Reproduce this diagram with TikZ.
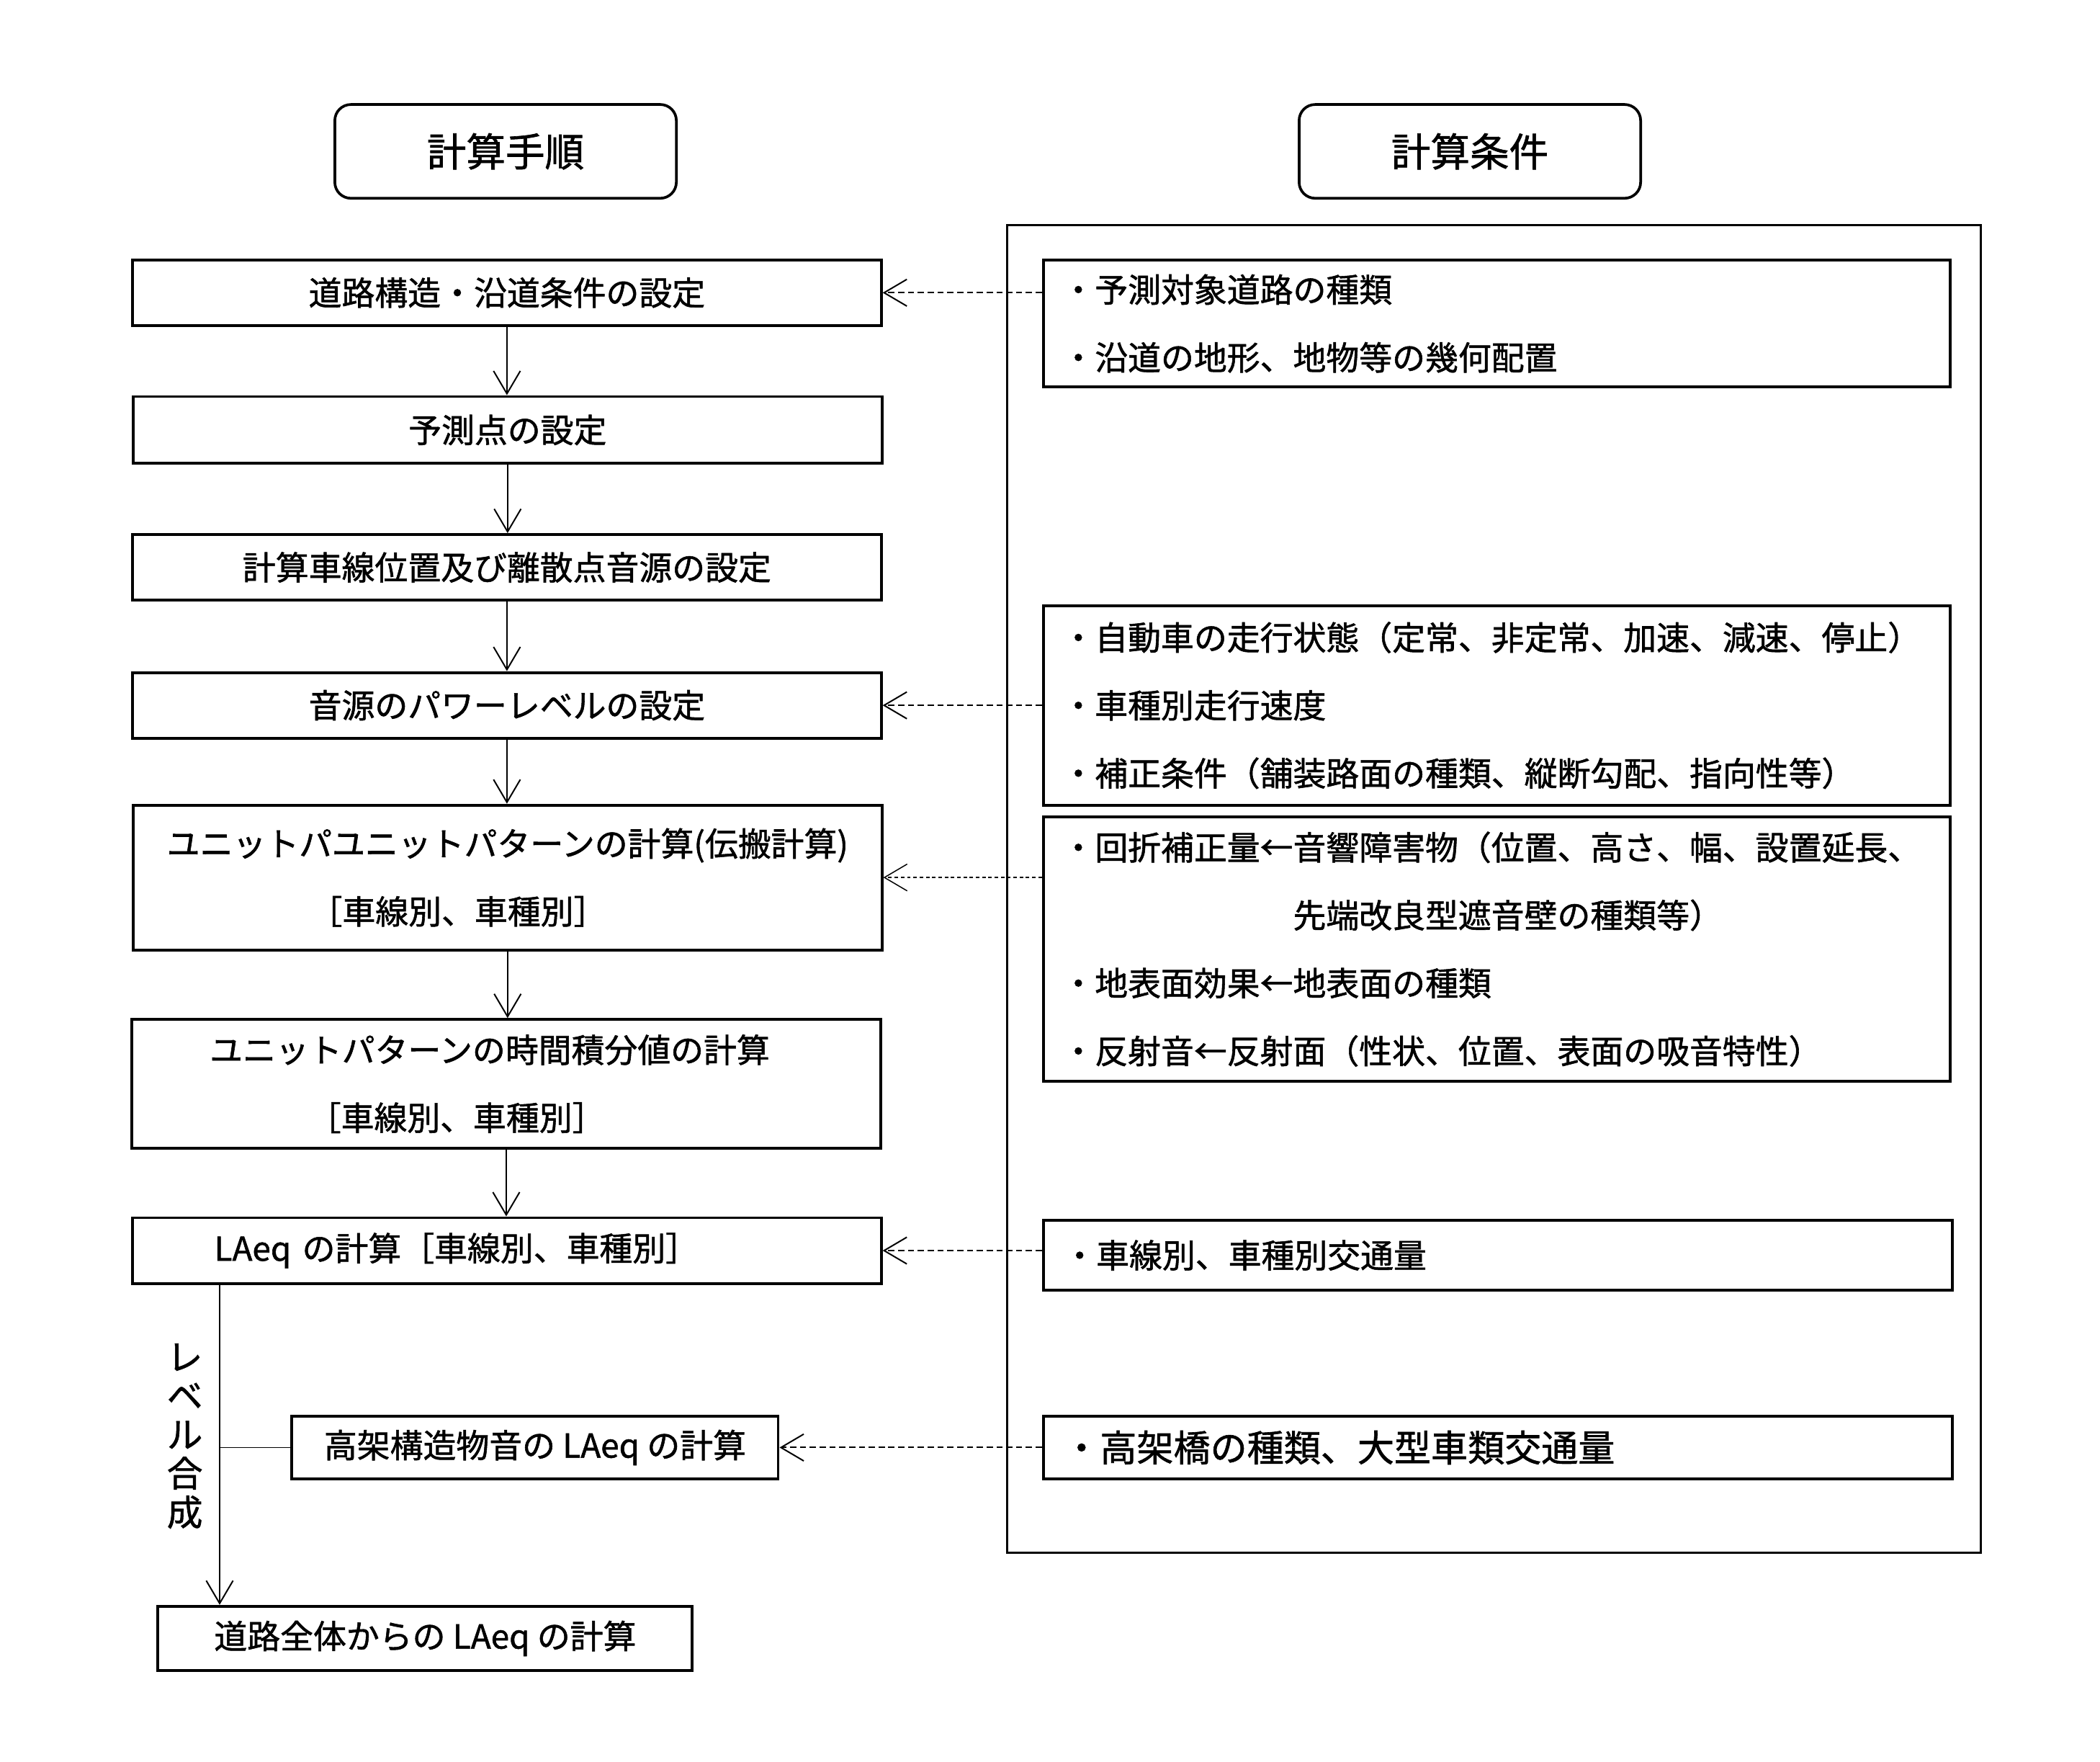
\documentclass[tikz,border=0pt]{standalone}
\usepackage{fontspec}
\setmainfont{Noto Sans CJK JP}[FakeBold=1.2]
\usetikzlibrary{arrows.meta}

\newcommand{\boxfont}{\fontsize{18.5}{38}\selectfont}
\newcommand{\headfont}{\fontsize{22}{26}\selectfont}
\newcommand{\bigboxfont}{\fontsize{20.6}{26}\selectfont}
\newcommand{\vertfont}{\fontsize{20}{21.75}\selectfont}

\tikzset{every picture/.style={line width=0.75pt}}
\tikzset{
  titlebox/.style={draw, line width=1.5pt, rounded corners=9pt, minimum width=191.25pt, minimum height=52.5pt, font=\headfont},
  procbox/.style={draw, line width=1.6pt, minimum width=419.25pt, minimum height=36.75pt, inner sep=0.75pt, align=center, font=\boxfont},
  condbox/.style={draw, line width=1.6pt, minimum width=507.75pt, text width=487pt, inner xsep=10pt, inner ysep=0.75pt, align=left, font=\boxfont},
  flow/.style={-{Straight Barb[length=12.75pt,width=15pt]}, line width=0.8pt},
  feed/.style={flow, dash pattern=on 3.5pt off 2pt}
}

\begin{document}
\begin{tikzpicture}[x=0.75pt,y=0.75pt,yscale=-1,xscale=1]
\useasboundingbox (0,0) rectangle (1568,1315);

% Text Node
\node (t1) [titlebox] at (377.5,113) {計算手順};
% Text Node
\node (t2) [titlebox] at (1097.5,113) {計算条件};

%Shape: Rectangle
\draw [line width=1.5pt] (752,168) rectangle (1479,1159);

% calculation steps
\node (b1) [procbox] at (378.5,218.5) {道路構造・沿道条件の設定};
\node (b2) [procbox, minimum height=37.5pt] at (379,321) {予測点の設定};
\node (b3) [procbox] at (378.5,423.5) {計算車線位置及び離散点音源の設定};
\node (b4) [procbox] at (378.5,526.5) {音源のパワーレベルの設定};
\node (b5) [procbox, minimum height=81pt] at (379,655) {ユニットパユニットパターンの計算(伝搬計算)\\［車線別、車種別］\hphantom{車線別}};
\node (b6) [procbox, minimum height=72pt] at (378,809) {ユニットパターンの時間積分値の計算\hphantom{の}\\［車線別、車種別］\hphantom{車線別}};
\node (b7) [procbox, align=left, text width=327.75pt, inner xsep=45.75pt] at (378.5,933.5) {LAeq の計算［車線別、車種別］};
\node (b8) [procbox, minimum width=272.25pt, minimum height=35.25pt] at (399.5,1080.5) {高架構造物音の LAeq の計算};
\node (b9) [procbox, minimum width=299.25pt, minimum height=36pt] at (317.5,1223) {道路全体からの LAeq の計算};

% calculation conditions
\node (ra) [condbox, minimum height=71.25pt] at (1117.5,241.5) {・予測対象道路の種類\\・沿道の地形、地物等の幾何配置};
\node (rb) [condbox, minimum height=111.75pt] at (1117.5,526.5) {・自動車の走行状態（定常、非定常、加速、減速、停止）\\・車種別走行速度\\・補正条件（舗装路面の種類、縦断勾配、指向性等）};
\node (rc) [condbox, minimum height=147.75pt] at (1117.5,708.5) {・回折補正量←音響障害物（位置、高さ、幅、設置延長、\\\hspace*{7em}先端改良型遮音壁の種類等）\\・地表面効果←地表面の種類\\・反射音←反射面（性状、位置、表面の吸音特性）};
\node (rd) [condbox, minimum width=509.25pt, minimum height=39pt] at (1118.5,937) {・車線別、車種別交通量};
\node (re) [condbox, minimum width=509.25pt, minimum height=35.25pt, font=\bigboxfont] at (1118.5,1080.5) {・高架橋の種類、大型車類交通量};

%Straight Lines
\draw [flow] (b1.south) -- (b1.south |- b2.north);
\draw [flow] (b2.south) -- (b2.south |- b3.north);
\draw [flow] (b3.south) -- (b3.south |- b4.north);
\draw [flow] (b4.south) -- (b4.south |- b5.north);
\draw [flow] (b5.south) -- (b5.south |- b6.north);
\draw [flow] (b6.south) -- (b6.south |- b7.north);

%Straight Lines
\coordinate (lev) at (164,1080.5);
\draw [flow] (b7.south -| lev) -- (b9.north -| lev);
\draw (lev) -- (b8.west);
% Text Node
\node (lvl) [align=center, inner sep=0.75pt, font=\vertfont] at (138,1072) {レ\\ベ\\ル\\合\\成};

%Straight Lines
\draw [feed] (ra.west |- b1.east) -- (b1.east);
\draw [feed] (rb.west |- b4.east) -- (b4.east);
\draw [feed, line width=0.6pt, dash pattern=on 2pt off 1.5pt] (rc.west |- b5.east) -- (b5.east);
\draw [feed] (rd.west |- b7.east) -- (b7.east);
\draw [feed] (re.west |- b8.east) -- (b8.east);

\end{tikzpicture}
\end{document}
